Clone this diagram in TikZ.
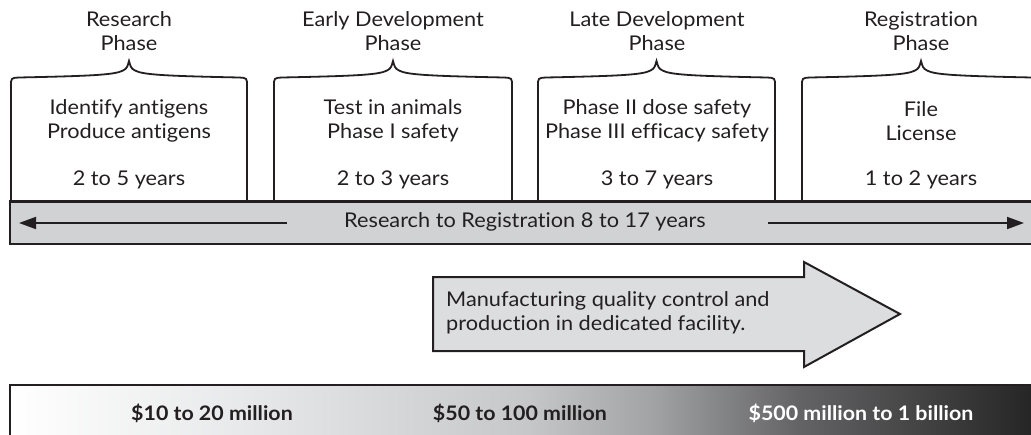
\documentclass[tikz,border=0pt]{standalone}
\usepackage{fontspec}
\setmainfont{Lato}[FakeStretch=1.07, Ligatures=NoCommon]
\usetikzlibrary{arrows.meta}
\definecolor{ink}{HTML}{231F20}
\definecolor{barfill}{HTML}{D1D2D4}
\definecolor{arrfill}{HTML}{DCDDDF}
\definecolor{gA}{HTML}{FFFFFF}
\definecolor{gB}{HTML}{E6E7E8}
\definecolor{gC}{HTML}{C6C7C9}
\definecolor{gD}{HTML}{A2A3A5}
\definecolor{gE}{HTML}{646466}
\definecolor{gF}{HTML}{222222}
\pgfdeclarehorizontalshading{cost}{100bp}{color(0bp)=(gA); color(25bp)=(gA); color(37bp)=(gB); color(50bp)=(gC); color(56bp)=(gD); color(63bp)=(gE); color(75bp)=(gF); color(100bp)=(gF)}
\tikzset{
  phaseline/.style={draw=ink, line width=1.8pt},
  txt/.style={font=\fontsize{20.3}{24}\selectfont, text=ink, align=center, inner sep=0pt},
  cost/.style={font=\fontsize{20}{24}\selectfont\bfseries, inner sep=0pt},
  longarrow/.style={draw=ink, line width=1.8pt, -{Triangle[length=17pt,width=12pt]}},
}
\newcommand\phasebrace[2]{%
  \draw[phaseline] (#1,201) -- (#1,86) .. controls (#1,78) .. ({#1+8},77.5)
    .. controls ({(#1+#2)/2-40},76) and ({(#1+#2)/2-14},75) .. ({(#1+#2)/2-6},70.5)
    .. controls ({(#1+#2)/2-2},68) .. ({(#1+#2)/2},61)
    .. controls ({(#1+#2)/2+2},68) .. ({(#1+#2)/2+6},70.5)
    .. controls ({(#1+#2)/2+14},75) and ({(#1+#2)/2+40},76) .. ({#2-8},77.5)
    .. controls (#2,78) .. (#2,86) -- (#2,201);}
\begin{document}
\begin{tikzpicture}[x=1pt,y=-1pt]
\useasboundingbox (0,0) rectangle (1031,434);
\clip (0,0) rectangle (1031,434);
% phase brackets
\phasebrace{11}{247}
\phasebrace{274}{512}
\phasebrace{538}{775}
\phasebrace{802}{1040}
% titles
\node[txt] (t1) at (129,31) {Research\\Phase};
\node[txt] (t2) at (393,31) {Early Development\\Phase};
\node[txt] (t3) at (657,31) {Late Development\\Phase};
\node[txt] (t4) at (921,31) {Registration\\Phase};
% box contents
\node[txt] (a1) at (129,121) {Identify antigens\\Produce antigens};
\node[txt] (a2) at (393,121) {Test in animals\\Phase I safety};
\node[txt] (a3) at (657,121) {Phase II dose safety\\Phase III efficacy safety};
\node[txt] (a4) at (921,121) {File\\License};
\node[txt] (y1) at (129,180) {2 to 5 years};
\node[txt] (y2) at (393,180) {2 to 3 years};
\node[txt] (y3) at (657,180) {3 to 7 years};
\node[txt] (y4) at (921,180) {1 to 2 years};
% gray bar
\draw[draw=ink, line width=2.4pt, fill=barfill] (10,201.5) rectangle (1045,244);
\node[txt] (rr) at (525,222) {Research to Registration 8 to 17 years};
\coordinate (la) at (287,223);
\coordinate (lb) at (19,223);
\coordinate (ra) at (768,223);
\coordinate (rb) at (1024,223);
\draw[longarrow] (la) -- (lb);
\draw[longarrow] (ra) -- (rb);
% manufacturing arrow
\draw[draw=ink, line width=2pt, fill=arrfill, line join=miter]
  (433,277) -- (804,277) -- (804,262) -- (900,314) -- (804,367) -- (804,351) -- (433,351) -- cycle;
\node[txt, align=left, anchor=west] (mf) at (446,312.5) {Manufacturing quality control and\\production in dedicated facility.};
% cost bar
\shade[shading=cost] (10,385) rectangle (1045,440);
\draw[draw=ink, line width=2.2pt] (1045,385) -- (10,385) -- (10,440);
\node[cost, text=ink] (c1) at (212,413) {\$10 to 20 million};
\node[cost, text=ink] (c2) at (520,413) {\$50 to 100 million};
\node[cost, text=white] (c3) at (861,413) {\$500 million to 1 billion};
\end{tikzpicture}
\end{document}
